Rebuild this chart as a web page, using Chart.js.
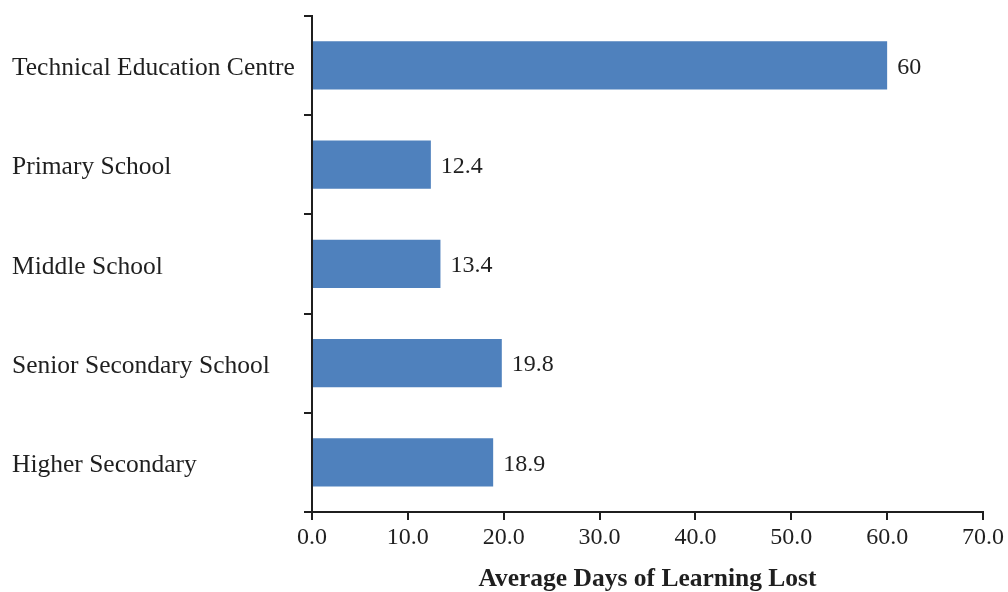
<!DOCTYPE html>
<html>
<head>
<meta charset="utf-8">
<script src="https://cdn.jsdelivr.net/npm/chart.js@4/dist/chart.umd.min.js"></script>
<style>
  html, body { margin: 0; padding: 0; background: #fff; }
  #wrap { width: 1008px; height: 592px; }
</style>
</head>
<body>
<div id="wrap"><canvas id="chart" width="1008" height="592"></canvas></div>
<script>
const categories = ['Technical Education Centre', 'Primary School', 'Middle School', 'Senior Secondary School', 'Higher Secondary'];
const daysLost = [60, 12.4, 13.4, 19.8, 18.9];
const valueLabels = ['60', '12.4', '13.4', '19.8', '18.9'];
const xTicks = [0, 10, 20, 30, 40, 50, 60, 70];

const SERIF = '"Liberation Serif", "Times New Roman", serif';
const INK = '#1f1f1f';

// value labels drawn just past the end of each bar
const barLabels = {
  id: 'barLabels',
  afterDatasetsDraw(chart) {
    const ctx = chart.ctx;
    const meta = chart.getDatasetMeta(0);
    ctx.save();
    ctx.font = '24px ' + SERIF;
    ctx.fillStyle = INK;
    ctx.textAlign = 'left';
    ctx.textBaseline = 'middle';
    meta.data.forEach((bar, i) => {
      ctx.fillText(valueLabels[i], bar.x + 10, bar.y + 2);
    });
    ctx.restore();
  }
};

new Chart(document.getElementById('chart'), {
  type: 'bar',
  data: {
    labels: categories,
    datasets: [{
      data: daysLost,
      backgroundColor: '#4F81BD',
      borderWidth: 0,
      barPercentage: 0.485,
      categoryPercentage: 1
    }]
  },
  options: {
    indexAxis: 'y',
    responsive: false,
    animation: false,
    layout: { padding: { left: 12, top: 14, right: 25, bottom: 0 } },
    plugins: { legend: { display: false }, tooltip: { enabled: false } },
    scales: {
      x: {
        min: 0, max: 70,
        afterBuildTicks: axis => { axis.ticks = xTicks.map(v => ({ value: v })); },
        afterFit: axis => { axis.height = 80; },
        border: { color: INK, width: 2 },
        grid: { drawOnChartArea: false, tickLength: 8, color: INK, lineWidth: 2 },
        ticks: {
          padding: 3,
          color: INK,
          font: { family: SERIF, size: 24 },
          callback: v => Number(v).toFixed(1)
        },
        title: {
          display: true,
          text: 'Average Days of Learning Lost',
          color: INK,
          font: { family: SERIF, size: 25.5, weight: 'bold', lineHeight: 1 },
          padding: { top: 0, bottom: 0 }
        }
      },
      y: {
        offset: true,
        afterFit: axis => { axis.width = 300; },
        border: { color: INK, width: 2 },
        grid: { offset: true, drawOnChartArea: false, tickLength: 8, color: INK, lineWidth: 2 },
        ticks: {
          crossAlign: 'far',
          labelOffset: 3,
          color: INK,
          font: { family: SERIF, size: 25.5, lineHeight: 1 }
        }
      }
    }
  },
  plugins: [barLabels]
});
</script>
</body>
</html>
